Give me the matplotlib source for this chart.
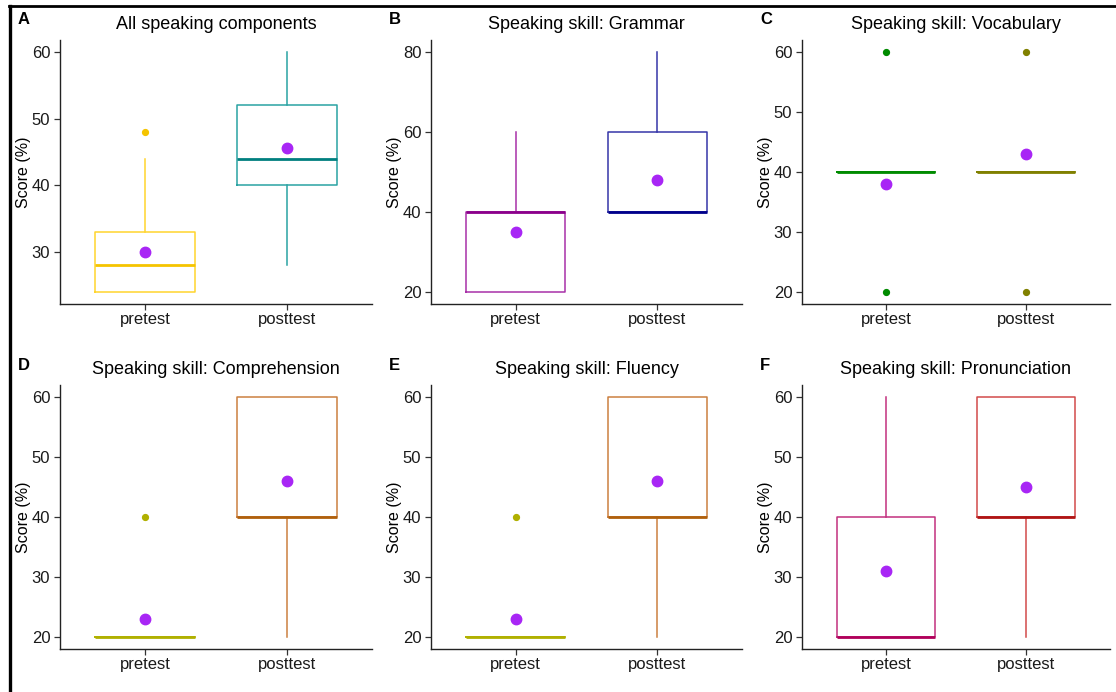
import matplotlib
matplotlib.use("Agg")
import matplotlib.pyplot as plt
from matplotlib.lines import Line2D

plt.rcParams['font.family'] = ['Liberation Sans', 'DejaVu Sans']

groups = ["pretest", "posttest"]
titles = ["All speaking components", "Speaking skill: Grammar", "Speaking skill: Vocabulary",
          "Speaking skill: Comprehension", "Speaking skill: Fluency", "Speaking skill: Pronunciation"]
letters = ["A", "B", "C", "D", "E", "F"]

# per panel: [pretest, posttest]
q1 = [[24, 40], [20, 40], [40, 40], [20, 40], [20, 40], [20, 40]]
med = [[28, 44], [40, 40], [40, 40], [20, 40], [20, 40], [20, 40]]
q3 = [[33, 52], [40, 60], [40, 40], [20, 60], [20, 60], [40, 60]]
whislo = [[24, 28], [20, 40], [40, 40], [20, 20], [20, 20], [20, 20]]
whishi = [[44, 60], [60, 80], [40, 40], [20, 60], [20, 60], [60, 60]]
fliers = [[[48], []], [[], []], [[20, 60], [20, 60]], [[40], []], [[40], []], [[], []]]
means = [[30, 45.6], [35, 48], [38, 43], [23, 46], [23, 46], [31, 45]]

yticks = [[30, 40, 50, 60], [20, 40, 60, 80], [20, 30, 40, 50, 60],
          [20, 30, 40, 50, 60], [20, 30, 40, 50, 60], [20, 30, 40, 50, 60]]

box_colors = [["#FFD42E", "#2AA3A3"], ["#A830A8", "#3535A8"], ["#008B00", "#808000"],
              ["#B5B500", "#CC8040"], ["#B5B500", "#CC8040"], ["#C2307E", "#D24A4A"]]
med_colors = [["#F5C400", "#007F7F"], ["#8B008B", "#00008B"], ["#008B00", "#808000"],
              ["#B0B000", "#B0600C"], ["#B0B000", "#B0600C"], ["#B0005A", "#B01515"]]
mean_color = "#A826F5"

W, H = 1116, 692
fig = plt.figure(figsize=(W / 100, H / 100), dpi=100)

col_l = [60, 431, 802]
col_r = [372, 742, 1110]
row_t = [40, 385]
row_b = [304, 649]

for i in range(6):
    r, c = divmod(i, 3)
    l, rr, t, b = col_l[c], col_r[c], row_t[r], row_b[r]
    ax = fig.add_axes([l / W, 1 - b / H, (rr - l) / W, (b - t) / H])
    stats = []
    for g in range(2):
        stats.append(dict(q1=q1[i][g], med=med[i][g], q3=q3[i][g], whislo=whislo[i][g],
                          whishi=whishi[i][g], fliers=fliers[i][g], mean=means[i][g]))
    for g in range(2):
        ax.bxp([stats[g]], positions=[g + 1], widths=0.7, showcaps=False, showfliers=True,
               showmeans=False, patch_artist=False,
               boxprops=dict(color=box_colors[i][g], linewidth=1.1),
               whiskerprops=dict(color=box_colors[i][g], linewidth=1.1),
               medianprops=dict(color=med_colors[i][g], linewidth=2.0),
               flierprops=dict(marker='o', markerfacecolor=med_colors[i][g],
                               markeredgecolor=med_colors[i][g], markersize=4.2))
        ax.plot([g + 1], [means[i][g]], 'o', color=mean_color, markersize=7.5, zorder=5)
    ymin = min(min(whislo[i]), min([min(f) for f in fliers[i] if f] or [999]))
    ymax = max(max(whishi[i]), max([max(f) for f in fliers[i] if f] or [-999]))
    pad = (ymax - ymin) * 0.05
    ax.set_ylim(ymin - pad, ymax + pad)
    ax.set_xlim(0.4, 2.6)
    ax.set_xticks([1, 2])
    ax.set_xticklabels(groups)
    ax.set_yticks(yticks[i])
    ax.tick_params(axis='both', labelsize=12, length=4, width=0.9, color='#333333',
                   labelcolor='#1a1a1a', pad=3)
    ax.tick_params(axis='x', pad=2)
    for s in ['top', 'right']:
        ax.spines[s].set_visible(False)
    for s in ['left', 'bottom']:
        ax.spines[s].set_linewidth(1.0)
        ax.spines[s].set_color('#222222')
    ax.set_ylabel("Score (%)", fontsize=11.5, labelpad=0.5)
    ax.set_title(titles[i], fontsize=13, pad=8)
    fig.text((l - 42) / W, 1 - (t - 20) / H, letters[i], fontsize=12, fontweight='bold',
             ha='left', va='center')

# screenshot border lines
fig.add_artist(Line2D([9 / W, 1], [1 - 5.5 / H, 1 - 5.5 / H], color='black', linewidth=2.0,
                      transform=fig.transFigure))
fig.add_artist(Line2D([10 / W, 10 / W], [0, 1 - 5.5 / H], color='black', linewidth=2.4,
                      transform=fig.transFigure))

fig.savefig("out.png", dpi=100)
